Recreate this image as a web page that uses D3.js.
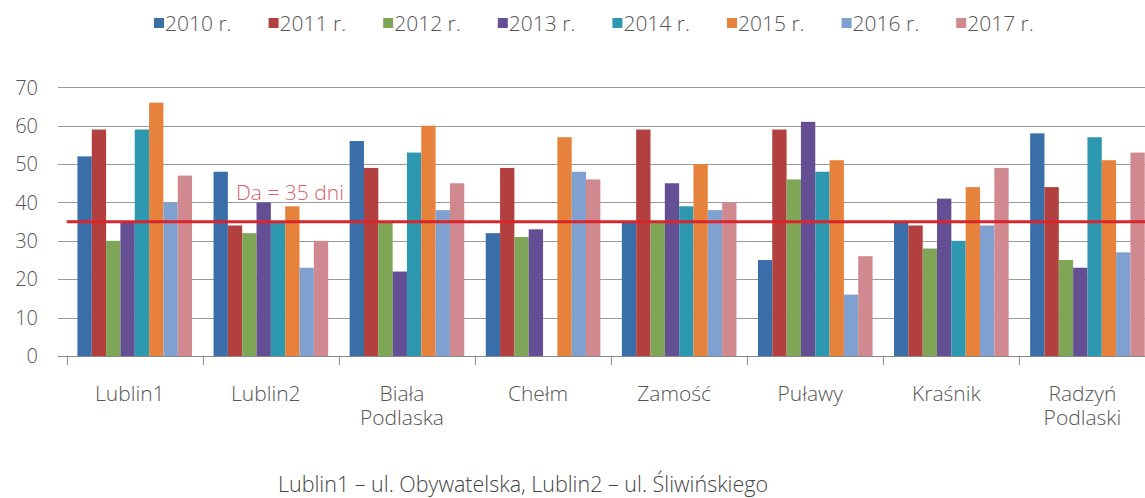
<!DOCTYPE html>
<html>
<head>
    <meta charset="utf-8">
    <title>Da - liczba dni</title>
    <script src="https://d3js.org/d3.v7.min.js"></script>
    <style>
        body {
            margin: 0;
            background: #ffffff;
        }

        svg text {
            font-family: 'Open Sans', sans-serif;
            font-weight: 300;
        }
    </style>
</head>
<body>
<div id="chart"></div>
<script>
        // data
        const stations = ['Lublin1', 'Lublin2', 'Biała\nPodlaska', 'Chełm', 'Zamość', 'Puławy', 'Kraśnik', 'Radzyń\nPodlaski'];
        const years = ['2010 r.', '2011 r.', '2012 r.', '2013 r.', '2014 r.', '2015 r.', '2016 r.', '2017 r.'];
        const colors = ['#3a6ea9', '#b1403f', '#7fa656', '#654f94', '#2e98b0', '#e6823b', '#80a0cf', '#d0898f'];

        const v2010 = [52, 48, 56, 32, 35, 25, 35, 58];
        const v2011 = [59, 34, 49, 49, 59, 59, 34, 44];
        const v2012 = [30, 32, 35, 31, 35, 46, 28, 25];
        const v2013 = [35, 40, 22, 33, 45, 61, 41, 23];
        const v2014 = [59, 35, 53, null, 39, 48, 30, 57];
        const v2015 = [66, 39, 60, 57, 50, 51, 44, 51];
        const v2016 = [40, 23, 38, 48, 38, 16, 34, 27];
        const v2017 = [47, 30, 45, 46, 40, 26, 49, 53];
        const series = [v2010, v2011, v2012, v2013, v2014, v2015, v2016, v2017];

        const yTicks = [0, 10, 20, 30, 40, 50, 60, 70];
        const limit = 35;
        const limitLabel = 'Da = 35 dni';
        const caption = 'Lublin1 – ul. Obywatelska, Lublin2 – ul. Śliwińskiego';

        const width = 1145;
        const height = 498;

        const svg = d3.select('#chart')
            .append('svg')
            .attr('width', width)
            .attr('height', height);

        const x0 = d3.scaleBand()
            .domain(stations)
            .range([66.7, 1155.5])
            .padding(0);

        const x1 = d3.scaleBand()
            .domain(years)
            .range([0, x0.bandwidth()])
            .paddingInner(0)
            .paddingOuter(0.75);

        const y = d3.scaleLinear()
            .domain([0, 70])
            .range([356, 87.3]);

        // horizontal grid lines (they stick out a bit to the left like ticks)
        svg.append('g')
            .selectAll('line')
            .data(yTicks.filter(d => d > 0))
            .join('line')
            .attr('x1', 58)
            .attr('x2', width)
            .attr('y1', d => Math.round(y(d)) + 0.5)
            .attr('y2', d => Math.round(y(d)) + 0.5)
            .attr('stroke', '#9a9a9a')
            .attr('stroke-width', 1);

        svg.append('g')
            .selectAll('text')
            .data(yTicks)
            .join('text')
            .attr('x', 38)
            .attr('y', d => y(d))
            .attr('dy', '0.36em')
            .attr('text-anchor', 'end')
            .style('font-size', '20px')
            .style('fill', '#555555')
            .text(d => d);

        // bars
        const groups = svg.append('g')
            .selectAll('g')
            .data(stations)
            .join('g')
            .attr('transform', d => `translate(${x0(d)},0)`);

        groups.selectAll('rect')
            .data((d, i) => years.map((yr, j) => ({ year: yr, value: series[j][i], color: colors[j] })))
            .join('rect')
            .filter(d => d.value != null)
            .attr('x', d => x1(d.year))
            .attr('width', x1.bandwidth())
            .attr('y', d => y(d.value))
            .attr('height', d => y(0) - y(d.value))
            .attr('fill', d => d.color);

        // x axis line and category ticks
        svg.append('line')
            .attr('x1', 58)
            .attr('x2', width)
            .attr('y1', 356.5)
            .attr('y2', 356.5)
            .attr('stroke', '#8a8a8a');

        svg.append('g')
            .selectAll('line')
            .data(stations)
            .join('line')
            .attr('x1', d => Math.round(x0(d)) + 0.5)
            .attr('x2', d => Math.round(x0(d)) + 0.5)
            .attr('y1', 356)
            .attr('y2', 365)
            .attr('stroke', '#8a8a8a');

        // category labels (two lines where needed)
        const labels = svg.append('g')
            .selectAll('text')
            .data(stations)
            .join('text')
            .attr('x', d => x0(d) + x0.bandwidth() / 2 - 5)
            .attr('y', 401)
            .attr('text-anchor', 'middle')
            .style('font-size', '21px')
            .style('fill', '#555555');

        labels.selectAll('tspan')
            .data(d => d.split('\n'))
            .join('tspan')
            .attr('x', function () { return d3.select(this.parentNode).attr('x'); })
            .attr('dy', (d, i) => i === 0 ? 0 : 23.5)
            .text(d => d);

        // limit line
        svg.append('line')
            .attr('x1', 66.7)
            .attr('x2', width)
            .attr('y1', y(limit))
            .attr('y2', y(limit))
            .attr('stroke', '#d9262d')
            .attr('stroke-width', 3);

        svg.append('text')
            .attr('x', 236)
            .attr('y', 200)
            .style('font-size', '21px')
            .style('fill', '#d75f6a')
            .text(limitLabel);

        // legend
        const legend = svg.append('g')
            .selectAll('g')
            .data(years)
            .join('g')
            .attr('transform', (d, i) => `translate(${154 + i * 114.6},0)`);

        legend.append('rect')
            .attr('x', 0)
            .attr('y', 18)
            .attr('width', 10)
            .attr('height', 10)
            .attr('fill', (d, i) => colors[i]);

        legend.append('text')
            .attr('x', 11)
            .attr('y', 23)
            .attr('dy', '0.36em')
            .style('font-size', '21px')
            .style('fill', '#555555')
            .text(d => d);

        // caption under the chart
        svg.append('text')
            .attr('x', 523)
            .attr('y', 492)
            .attr('text-anchor', 'middle')
            .style('font-size', '21.5px')
            .style('fill', '#444444')
            .text(caption);
</script>
</body>
</html>
